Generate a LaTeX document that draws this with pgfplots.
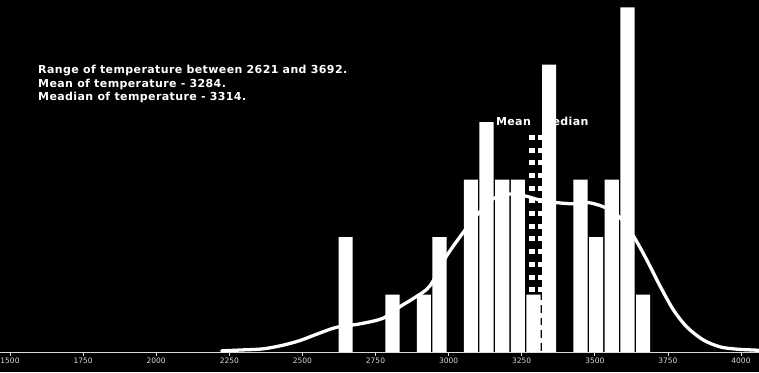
\documentclass[border=0pt]{standalone}
\usepackage{pgfplots}
\pgfplotsset{compat=1.18}
\usepackage{fontspec}
\setmainfont{DejaVu Sans}
\newfontfamily\infofont[LetterSpace=3.6]{DejaVu Sans}
\definecolor{tickgray}{HTML}{D9D9D9}
\begin{document}
\begin{tikzpicture}
\path[use as bounding box, fill=black] (0,-20pt) rectangle (759pt,352pt);
\clip (0,-20pt) rectangle (759pt,352pt);
\begin{axis}[
  at={(0,0)}, anchor=south west,
  scale only axis, width=759pt, height=352pt,
  xmin=1465.8, xmax=4061.6, ymin=0, ymax=6.127,
  axis x line*=bottom, axis y line=none,
  x axis line style={tickgray, line width=0.8pt},
  xtick={1500,1750,2000,2250,2500,2750,3000,3250,3500,3750,4000},
  xticklabel style={font=\fontsize{7.5}{9}\selectfont, text=tickgray, yshift=1pt},
  /pgf/number format/assume math mode=true,
  /pgf/number format/1000 sep={},
  tick style={tickgray, line width=0.8pt},
  tick align=outside, major tick length=3.5pt,
  clip=false,
]
% labels and guide lines (behind the bars)
\node[anchor=base east, text=white, font=\infofont\bfseries\fontsize{11}{13}\selectfont, inner sep=0pt] at (axis cs:3282,3.95) {Mean};
\node[anchor=base west, text=white, font=\infofont\bfseries\fontsize{11}{13}\selectfont, inner sep=0pt] at (axis cs:3316,3.95) {Median};
\addplot[white, line width=5.8pt, dash pattern=on 5pt off 7.7pt, forget plot] coordinates {(3284,3.78) (3284,0)};
\addplot[white, line width=5.8pt, dash pattern=on 5pt off 7.7pt, forget plot] coordinates {(3314,3.78) (3314,0)};
% histogram
\addplot[ybar, fill=white, draw=none, bar width=48.5] coordinates {
(2647.8,2) (2808.4,1) (2915.5,1) (2969.1,2) (3076.2,3) (3129.7,4) (3183.3,3)
(3236.8,3) (3290.4,1) (3343.9,5) (3451.0,3) (3504.6,2) (3558.1,3) (3611.7,6) (3665.2,1)
};
% kde
\addplot[white, line width=3.3pt, smooth, line cap=round] coordinates {
(2224,0.02) (2290,0.035) (2366,0.055) (2435,0.12) (2492,0.20) (2549,0.31) (2617,0.43)
(2697,0.49) (2777,0.59) (2834,0.79) (2885,0.95) (2936,1.15) (2993,1.67) (3050,2.08)
(3100,2.40) (3153,2.67) (3207,2.75) (3259,2.72) (3315,2.64) (3370,2.60) (3424,2.58)
(3478,2.60) (3533,2.52) (3584,2.35) (3632,2.02) (3677,1.61) (3723,1.15) (3768,0.74)
(3814,0.44) (3871,0.21) (3928,0.09) (3985,0.05) (4062,0.03)
};
% info text
\node[anchor=base west, text=white, font=\infofont\bfseries\fontsize{11}{13}\selectfont, inner sep=0pt] at (axis cs:1595.8,4.839) {Range of temperature between 2621 and 3692.};
\node[anchor=base west, text=white, font=\infofont\bfseries\fontsize{11}{13}\selectfont, inner sep=0pt] at (axis cs:1595.8,4.604) {Mean of temperature - 3284.};
\node[anchor=base west, text=white, font=\infofont\bfseries\fontsize{11}{13}\selectfont, inner sep=0pt] at (axis cs:1595.8,4.369) {Meadian of temperature - 3314.};
\end{axis}
\end{tikzpicture}
\end{document}
